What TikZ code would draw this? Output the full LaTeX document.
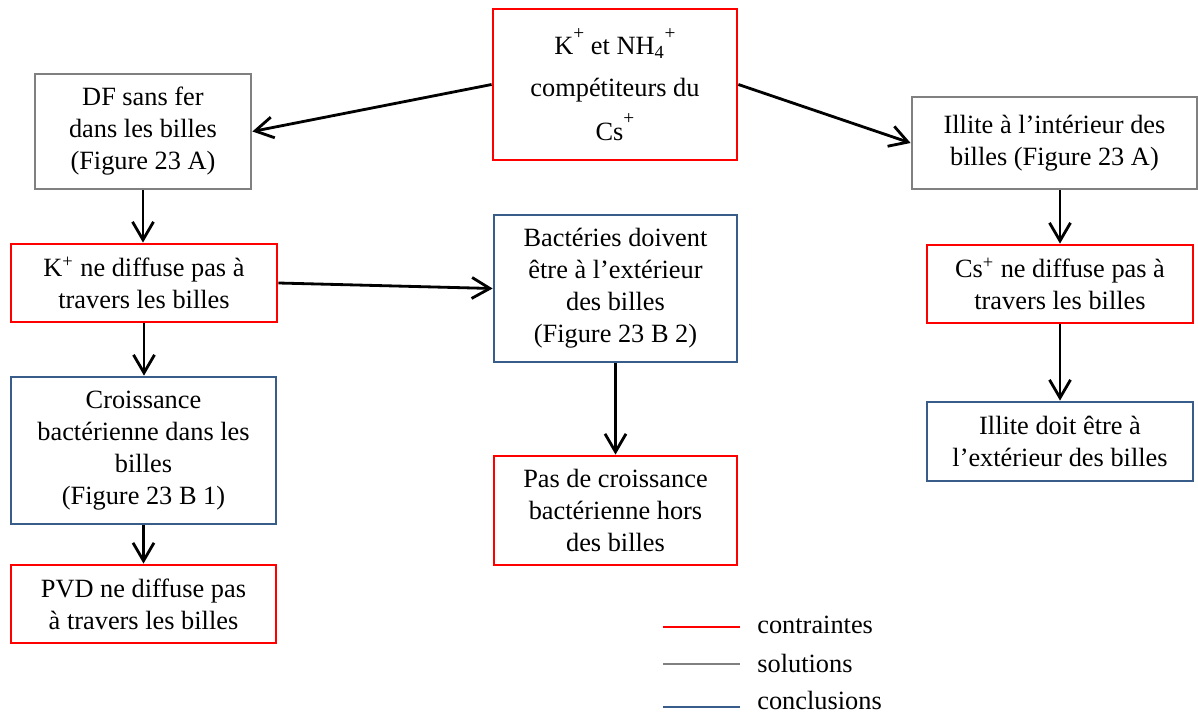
\documentclass[tikz,border=0pt]{standalone}
\usepackage{fontspec}
\setmainfont{Liberation Serif}
\usetikzlibrary{arrows.meta}
\definecolor{gris}{RGB}{128,128,128}
\definecolor{bleu}{RGB}{56,93,138}
\newcommand{\haut}[1]{\raisebox{1.3ex}{\fontsize{11}{13}\selectfont #1}}
\begin{document}
\begin{tikzpicture}[x=0.02cm,y=-0.02cm,>={Straight Barb[length=3.6mm,width=4.2mm]},
        font=\fontsize{15}{18.2}\selectfont,
        boite/.style={draw,line width=1.6pt,align=center,inner sep=0pt},
        contrainte/.style={boite,draw=red},
        solution/.style={boite,draw=gris},
        conclusion/.style={boite,draw=bleu},
        fleche/.style={->,line width=1.6pt}]
    \useasboundingbox (0,0) rectangle (1198,713);
    %=========================================== boites
    \node[contrainte,minimum width=4.88cm,minimum height=3.02cm] (comp) at (615,84.5)
        {K\haut{+} et NH\textsubscript{4}\haut{+}\\[5.6pt] compétiteurs du\\[5.6pt] Cs\haut{+}};
    \node[solution,minimum width=4.32cm,minimum height=2.3cm] (df) at (143,131.5)
        {DF sans fer\\dans les billes\\(Figure 23 A)};
    \node[solution,minimum width=5.7cm,minimum height=1.84cm] (iint) at (1054.5,143)
        {Illite à l’intérieur des\\billes (Figure 23 A)};
    \node[contrainte,minimum width=5.32cm,minimum height=1.56cm] (kdif) at (144,283)
        {K\textsuperscript{+} ne diffuse pas à\\travers les billes};
    \node[conclusion,minimum width=4.86cm,minimum height=2.94cm] (bact) at (615.5,288.5)
        {Bactéries doivent\\être à l’extérieur\\des billes\\(Figure 23 B 2)};
    \node[contrainte,minimum width=5.32cm,minimum height=1.56cm] (csdif) at (1060,284)
        {Cs\textsuperscript{+} ne diffuse pas à\\travers les billes};
    \node[conclusion,minimum width=5.3cm,minimum height=2.94cm] (crois) at (143.5,450.5)
        {Croissance\\bactérienne dans les\\billes\\(Figure 23 B 1)};
    \node[conclusion,minimum width=5.32cm,minimum height=1.58cm] (iext) at (1060,441.5)
        {Illite doit être à\\l’extérieur des billes};
    \node[contrainte,minimum width=4.86cm,minimum height=2.18cm] (pas) at (615.5,510.5)
        {Pas de croissance\\bactérienne hors\\des billes};
    \node[contrainte,minimum width=5.3cm,minimum height=1.56cm] (pvd) at (143.5,604)
        {PVD ne diffuse pas\\à travers les billes};
    %=========================================== fleches
    \draw[fleche] (comp.west) -- (df.east);
    \draw[fleche] (comp.east) -- (iint.west);
    \draw[fleche] (df.south) -- (df.south |- kdif.north);
    \draw[fleche] (kdif.east) -- (bact.west);
    \draw[fleche] (kdif.south) -- (kdif.south |- crois.north);
    \draw[fleche] (crois.south) -- (pvd.north);
    \draw[fleche] (bact.south) -- (pas.north);
    \draw[fleche] (csdif.north |- iint.south) -- (csdif.north);
    \draw[fleche] (csdif.south) -- (iext.north);
    %=========================================== legende
    \foreach \ly/\ty/\c/\t in {627/625/red/contraintes,664/663/gris/solutions,707/700/bleu/conclusions}{
        \draw[\c,line width=1.6pt] (663,\ly) -- (740,\ly);
        \node[anchor=west,inner sep=0pt] (leg-\t) at (757,\ty) {\t};
    }
\end{tikzpicture}
\end{document}
